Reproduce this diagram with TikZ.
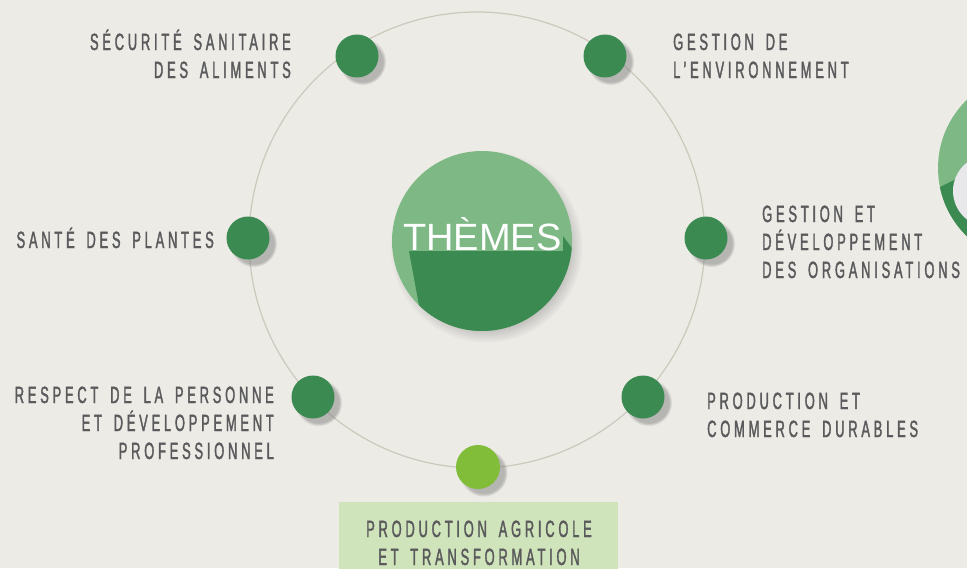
\documentclass[tikz,border=0pt]{standalone}
\usepackage{fontspec}
\setmainfont{Liberation Sans}
\newfontfamily\themefont[FakeStretch=0.55,LetterSpace=16,WordSpace=1.6,FakeBold=1.5]{Liberation Sans}
\usetikzlibrary{shadows}

\definecolor{fond}{HTML}{ECEBE6}
\definecolor{vertfonce}{HTML}{3B8A51}
\definecolor{vertclair}{HTML}{7EB985}
\definecolor{vertpomme}{HTML}{82BD3A}
\definecolor{vertpale}{HTML}{D0E4BB}
\definecolor{texte}{HTML}{5A5A5C}
\definecolor{orbite}{HTML}{CAC9BB}
\definecolor{gris}{HTML}{E8E7EA}

\begin{document}
\begin{tikzpicture}[
    x=1pt, y=-1pt,
    point/.style={circle, fill=vertfonce, minimum size=43pt, inner sep=0pt,
        circular drop shadow={shadow xshift=5pt, shadow yshift=-5pt, opacity=0.5, shadow scale=1.1}},
    theme/.style={text=texte, inner sep=0pt, font=\themefont\fontsize{23.5}{28}\selectfont},
]

% Fond
\fill[fond] (0,0) rectangle (967,568);
\useasboundingbox (0,0) rectangle (967,568);

% Orbite
\draw[orbite, line width=1.2pt] (477,240) circle (228);

% Pastille coupee a droite
\begin{scope}
\clip (0,0) rectangle (967,568);
\fill[vertclair] (1033,168) circle (95);
\begin{scope}
\clip (1033,168) circle (95);
\fill[vertfonce] (930,192) -- (1140,87) -- (1140,300) -- (930,300) -- cycle;
\end{scope}
\fill[gris] (989,191) circle (36);
\end{scope}

% Cercle central
\node[circle, fill=vertclair, minimum size=180pt, inner sep=0pt,
    circular drop shadow={shadow xshift=4pt, shadow yshift=-5pt, opacity=0.4, shadow scale=1.07}]
    (centre) at (482,241) {};
\begin{scope}
\clip (482,241) circle (90);
\fill[vertfonce] (409,251) -- (563,251) -- (563,236) -- (700,420) -- (440,420) -- cycle;
\end{scope}
\node[text=white, inner sep=0pt, anchor=base west, font=\fontsize{38}{40}\selectfont]
    (titre) at (403,250) {THÈMES};

% Points
\node[point] (secu) at (357,56) {};
\node[point] (env) at (605,56) {};
\node[point] (plantes) at (248,238) {};
\node[point] (orga) at (706,238) {};
\node[point] (respect) at (313,397) {};
\node[point] (durable) at (643,397) {};

% Theme choisi
\fill[vertpale] (339,502) rectangle (618,575);
\node[point, fill=vertpomme, minimum size=44pt] (agri) at (478,467) {};

% Libelles (ancre sur la derniere ligne)
\node[theme, align=right, anchor=base east] (secuLbl) at (291,78) {SÉCURITÉ SANITAIRE\\DES ALIMENTS};
\node[theme, align=left, anchor=base west] (envLbl) at (673,78) {GESTION DE\\L’ENVIRONNEMENT};
\node[theme, align=right, anchor=base east] (plantesLbl) at (214,248) {SANTÉ DES PLANTES};
\node[theme, align=left, anchor=base west] (orgaLbl) at (762,278) {GESTION ET\\DÉVELOPPEMENT\\DES ORGANISATIONS};
\node[theme, align=right, anchor=base east] (respectLbl) at (274,459) {RESPECT DE LA PERSONNE\\ET DÉVELOPPEMENT\\PROFESSIONNEL};
\node[theme, align=left, anchor=base west] (durableLbl) at (707,437) {PRODUCTION ET\\COMMERCE DURABLES};
\node[theme, align=center, anchor=base] (agriLbl) at (479,565) {PRODUCTION AGRICOLE\\ET TRANSFORMATION};

\end{tikzpicture}
\end{document}
